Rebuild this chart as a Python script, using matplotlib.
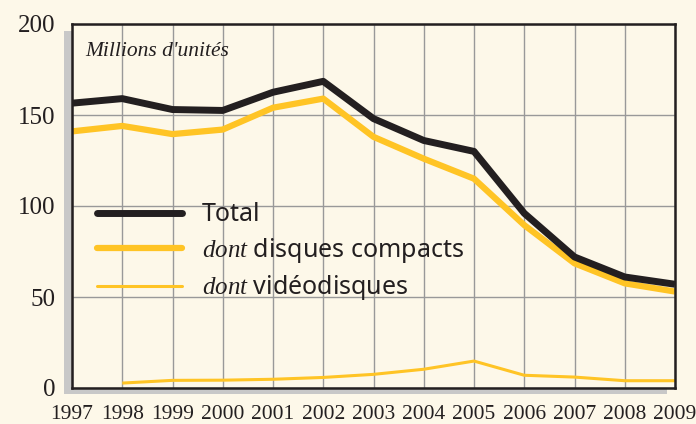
import numpy as np
import matplotlib
matplotlib.use("Agg")
import matplotlib.pyplot as plt
from matplotlib.patches import Rectangle

plt.rcParams['font.family'] = ['Liberation Serif', 'DejaVu Serif']
plt.rcParams['mathtext.fontset'] = 'custom'
plt.rcParams['mathtext.it'] = 'Liberation Serif:italic'
plt.rcParams['mathtext.rm'] = 'Liberation Serif'

# données (millions d'unités)
years = list(range(1997, 2010))
total = [156.5, 159, 153, 152.5, 162.5, 168.5, 148, 136, 130, 96, 72, 61, 57]
cd = [141, 144, 139.5, 142, 154, 159, 138, 126, 115, 89.5, 68.5, 57.5, 53]
video_years = list(range(1998, 2010))
video = [2.7, 4.2, 4.3, 4.8, 5.8, 7.5, 10.3, 14.8, 7, 6, 4, 4]

labels = ["Total", r"$\mathit{dont}$ disques compacts", r"$\mathit{dont}$ vidéodisques"]

bg = "#FDF8E9"
black = "#231F20"
yellow = "#FFC425"
grey = "#999999"

fig = plt.figure(figsize=(6.96, 4.24), dpi=100, facecolor=bg)

# ombre grise derrière le cadre
fig.patches.append(Rectangle((64 / 696, 30 / 424), 603 / 696, 363 / 424,
                             transform=fig.transFigure, facecolor="#C8C8C8",
                             edgecolor="none", zorder=0))

ax = fig.add_axes([72 / 696, 36 / 424, 603 / 696, 364 / 424], zorder=1)
ax.set_facecolor(bg)

l1, = ax.plot(years, total, color=black, lw=5, solid_capstyle='butt', zorder=4)
l2, = ax.plot(years, cd, color=yellow, lw=4.5, solid_capstyle='butt', zorder=3)
l3, = ax.plot(video_years, video, color=yellow, lw=2.2, solid_capstyle='butt', zorder=3)

ax.set_xlim(1997, 2009)
ax.set_ylim(0, 200)
ax.set_xticks(years)
ax.set_yticks([0, 50, 100, 150, 200])
ax.grid(True, color=grey, lw=1)
ax.tick_params(length=0, labelsize=18, pad=12, colors=black)
ax.tick_params(axis='x', labelsize=15.5, pad=12)
for s in ax.spines.values():
    s.set_color(black)
    s.set_linewidth(1.8)
    s.set_zorder(5)

ax.text(0.022, 0.925, "Millions d'unités", transform=ax.transAxes,
        fontsize=15.5, style='italic', va='center', ha='left', color=black)

leg = ax.legend([l1, l2, l3], labels, loc='upper left',
                bbox_to_anchor=(0.041, 0.51), frameon=False,
                prop={'family': 'Noto Sans', 'size': 18},
                handlelength=3.4, handletextpad=0.82, labelspacing=0.34,
                borderpad=0, borderaxespad=0)
for h in leg.get_lines():
    h.set_solid_capstyle('round')
for t in leg.get_texts():
    t.set_color(black)

fig.savefig("out.png", dpi=100, facecolor=bg)
